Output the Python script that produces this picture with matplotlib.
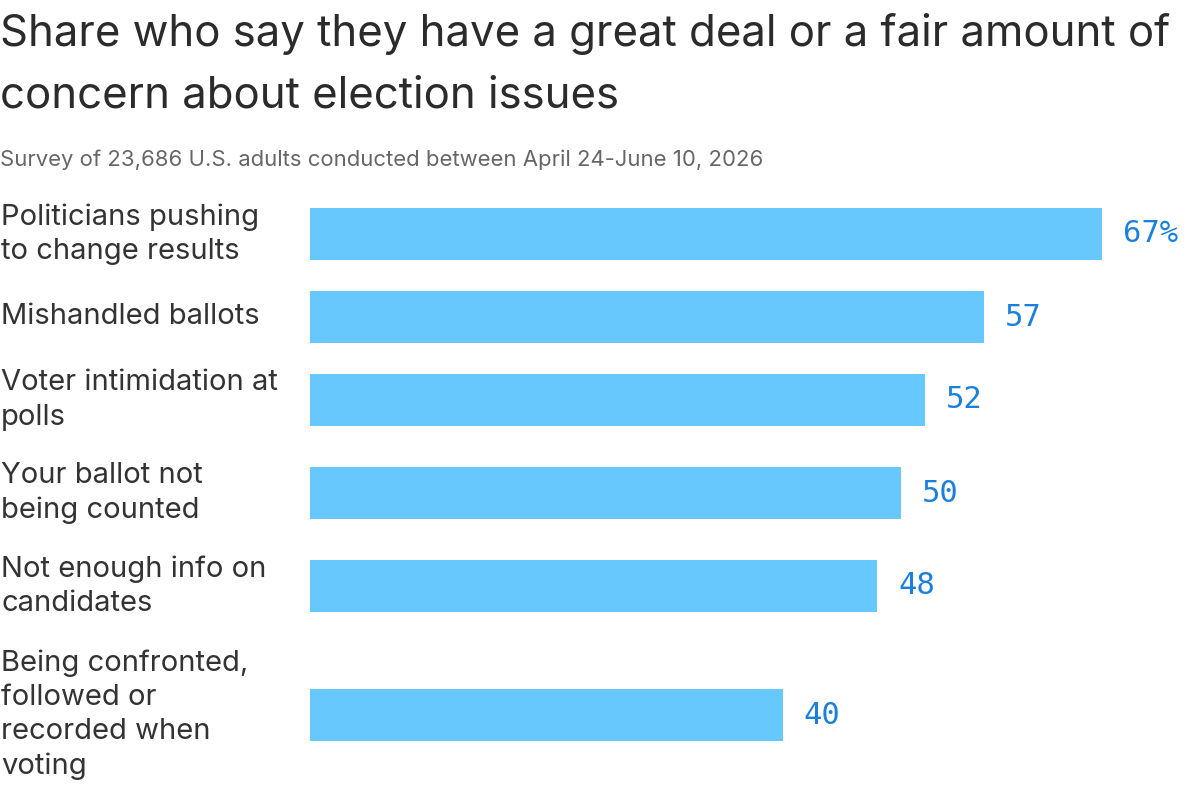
import matplotlib.pyplot as plt
from matplotlib.transforms import blended_transform_factory

categories = [
    'Politicians pushing\nto change results',
    'Mishandled ballots',
    'Voter intimidation at\npolls',
    'Your ballot not\nbeing counted',
    'Not enough info on\ncandidates',
    'Being confronted,\nfollowed or\nrecorded when\nvoting',
]
values = [67, 57, 52, 50, 48, 40]
value_labels = ['67%', '57', '52', '50', '48', '40']

title = 'Share who say they have a great deal or a fair amount of\nconcern about election issues'
subtitle = 'Survey of 23,686 U.S. adults conducted between April 24-June 10, 2026'

bar_color = '#66c8fd'
num_color = '#1a80de'
text_color = '#333333'

W, H = 1200, 786
fig = plt.figure(figsize=(W / 100, H / 100), dpi=100)

# axes in pixel units vertically, bars start at x=310px
x0, x67 = 310, 1102
ax = fig.add_axes([x0 / W, 0, (W - x0) / W, 1])
ax.set_xlim(0, values[0] * (W - x0) / (x67 - x0))
ax.set_ylim(H, 0)
ax.axis('off')

# row layout from the number of label lines
bar_h = 52
line_h = 36
gap = 21
top = 198
centers = []
for cat in categories:
    n = cat.count('\n') + 1
    ext = max(bar_h, line_h * n)
    centers.append(top + ext / 2)
    top += ext + gap

ax.barh(centers, values, height=bar_h, color=bar_color, left=0)

trans = blended_transform_factory(fig.transFigure, ax.transData)
for c, cat, v, lab in zip(centers, categories, values, value_labels):
    fig.text(0.001, c, cat, transform=trans, ha='left', va='center',
             fontsize=21, color=text_color, family='Inter', linespacing=1.34)
    ax.annotate(lab, (v, c), xytext=(15, 0), textcoords='offset points',
                ha='left', va='center', fontsize=22, color=num_color,
                family='DejaVu Sans Mono')

fig.text(0.0, 1 - 13 / H, title, ha='left', va='top', fontsize=31.5,
         color='#2b2b2b', family='Inter', linespacing=1.64)
fig.text(0.0, 1 - 160 / H, subtitle, ha='left', va='center', fontsize=15.9,
         color='#666666', family='Inter')

fig.savefig('out.png', dpi=100)
